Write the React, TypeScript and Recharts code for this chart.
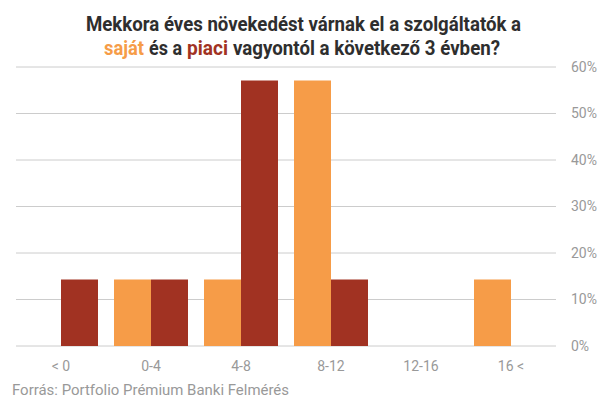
import React from 'react';
import { BarChart, Bar, XAxis, YAxis, CartesianGrid } from 'recharts';

const categories = ['< 0', '0-4', '4-8', '8-12', '12-16', '16 <'];
const sajat = [0, 14.3, 14.3, 57.1, 0, 14.3];
const piaci = [14.3, 14.3, 57.1, 14.3, 0, 0];
const yTicks = [0, 10, 20, 30, 40, 50, 60];

const data = categories.map((c, i) => ({ name: c, sajat: sajat[i], piaci: piaci[i] }));

const ORANGE = '#F69C48';
const RED = '#A13222';
const DARK = '#2E2E2E';
const GREY = '#999999';
const FONT = 'Roboto, "Open Sans", sans-serif';

const titleProps = {
  fontFamily: FONT,
  fontWeight: 700,
  fontSize: 20,
  lengthAdjust: 'spacingAndGlyphs' as const,
};

export default function App() {
  return (
    <div style={{ position: 'absolute', left: 0, top: 0, width: 607, height: 400, background: '#fff' }}>
      <BarChart
        width={607}
        height={400}
        data={data}
        margin={{ top: 67, left: 16, right: 0, bottom: 24 }}
        barCategoryGap={8}
        barGap={0}
      >
        <CartesianGrid vertical={false} stroke="#cccccc" />
        <XAxis
          dataKey="name"
          axisLine={false}
          tickLine={false}
          tickSize={6}
          tickMargin={9}
          height={30}
          tick={{ fill: GREY, fontSize: 14, fontFamily: FONT }}
        />
        <YAxis
          orientation="right"
          domain={[0, 60]}
          ticks={yTicks}
          tickFormatter={(v) => `${v}%`}
          axisLine={false}
          tickLine={false}
          tickSize={13}
          tickMargin={2}
          width={51}
          tick={{ fill: GREY, fontSize: 14, fontFamily: FONT, textAnchor: 'start' }}
        />
        <Bar dataKey="sajat" fill={ORANGE} isAnimationActive={false} />
        <Bar dataKey="piaci" fill={RED} isAnimationActive={false} />
      </BarChart>
      <svg
        width={607}
        height={400}
        style={{ position: 'absolute', left: 0, top: 0, pointerEvents: 'none' }}
      >
        <text x={86} y={31} textLength={435} fill={DARK} {...titleProps}>
          Mekkora éves növekedést várnak el a szolgáltatók a
        </text>
        <text x={104} y={55} textLength={40} fill={ORANGE} {...titleProps}>
          saját
        </text>
        <text x={149} y={55} textLength={33} fill={DARK} {...titleProps}>
          és a
        </text>
        <text x={187} y={55} textLength={41} fill={RED} {...titleProps}>
          piaci
        </text>
        <text x={233} y={55} textLength={267} fill={DARK} {...titleProps}>
          vagyontól a következő 3 évben?
        </text>
        <text
          x={12}
          y={395}
          textLength={277}
          lengthAdjust="spacingAndGlyphs"
          fontFamily={FONT}
          fontSize={15}
          fill={GREY}
        >
          Forrás: Portfolio Prémium Banki Felmérés
        </text>
      </svg>
    </div>
  );
}
